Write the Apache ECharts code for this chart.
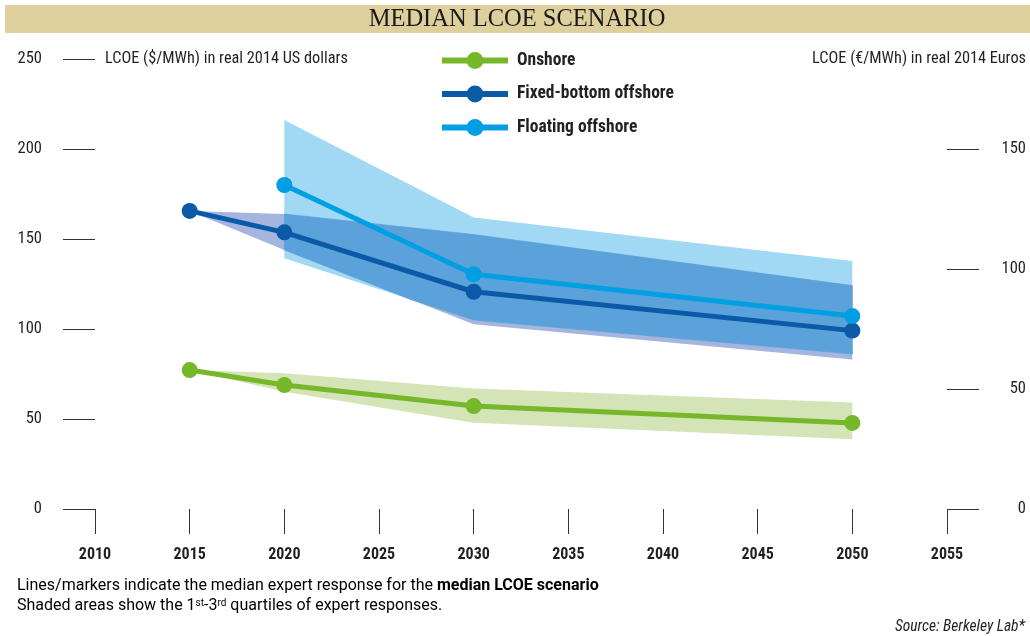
<!DOCTYPE html>
<html><head><meta charset="utf-8">
<script src="https://cdn.jsdelivr.net/npm/echarts@6/dist/echarts.min.js"></script>
<style>html,body{margin:0;padding:0;background:#fff}#c{width:1030px;height:636px}</style>
</head><body><div id="c"></div>
<script>
// ---- data ----
const years = [2015, 2020, 2030, 2050];
const onshoreMedian = [77.2, 68.9, 57.2, 47.8];
const onshoreLow    = [77.2, 65.2, 47.9, 38.7];
const onshoreHigh   = [77.2, 75.4, 67.0, 59.1];
const fixedMedian   = [165.6, 153.7, 120.7, 99.1];
const fixedLow      = [165.6, 143.9, 102.7, 83.1];
const fixedHigh     = [165.6, 163.9, 152.5, 124.1];
const floatYears    = [2020, 2030, 2050];
const floatMedian   = [180.0, 130.4, 107.2];
const floatLow      = [139.3, 105.0, 86.1];
const floatHigh     = [216.1, 162.0, 137.8];
const usdTicks = [0, 50, 100, 150, 200, 250];
const eurTicks = [0, 50, 100, 150];
const usdToEur = 0.75;

const FONT = "'Roboto Condensed', 'Liberation Sans', sans-serif";
const NOTE = "Roboto, 'Liberation Sans', sans-serif";
const TXT = '#231f20';
const C_ON = '#76b82a', C_FIX = '#0a5aa8', C_FLT = '#009fe3';
const B_ON = '#d3e4b6', B_FIX = '#a4b5df', B_FLT = '#a1d9f5', B_OVER = '#5ba1da';

function band(name, xs, lo, hi, fill) {
  return {
    type: 'custom', name: name, silent: true, z: 1,
    data: xs.map((x, i) => [x, lo[i], hi[i]]),
    encode: { x: 0, y: [1, 2] },
    renderItem: function (params, api) {
      if (params.dataIndex !== 0) return;
      const pts = [];
      for (let i = 0; i < xs.length; i++) pts.push(api.coord([xs[i], hi[i]]));
      for (let i = xs.length - 1; i >= 0; i--) pts.push(api.coord([xs[i], lo[i]]));
      return { type: 'polygon', shape: { points: pts }, style: { fill: fill } };
    }
  };
}
// Sutherland-Hodgman clip of a polygon by a convex polygon (pixel space)
function clipPoly(subject, clip) {
  let area = 0;
  for (let i = 0; i < clip.length; i++) {
    const a = clip[i], b = clip[(i + 1) % clip.length];
    area += a[0] * b[1] - b[0] * a[1];
  }
  const sgn = area >= 0 ? 1 : -1;
  let out = subject.slice();
  for (let e = 0; e < clip.length && out.length; e++) {
    const A = clip[e], B = clip[(e + 1) % clip.length];
    const inside = p => sgn * ((B[0] - A[0]) * (p[1] - A[1]) - (B[1] - A[1]) * (p[0] - A[0])) >= 0;
    const cross = (P, Q) => {
      const d1x = Q[0] - P[0], d1y = Q[1] - P[1], d2x = B[0] - A[0], d2y = B[1] - A[1];
      const den = d1x * d2y - d1y * d2x;
      const t = ((A[0] - P[0]) * d2y - (A[1] - P[1]) * d2x) / den;
      return [P[0] + t * d1x, P[1] + t * d1y];
    };
    const inp = out; out = [];
    for (let i = 0; i < inp.length; i++) {
      const cur = inp[i], prev = inp[(i + inp.length - 1) % inp.length];
      if (inside(cur)) { if (!inside(prev)) out.push(cross(prev, cur)); out.push(cur); }
      else if (inside(prev)) out.push(cross(prev, cur));
    }
  }
  return out;
}
function overlapSeries() {
  return {
    type: 'custom', name: 'overlap', silent: true, z: 1,
    data: floatYears.map((x, i) => [x, floatLow[i], floatHigh[i]]),
    encode: { x: 0, y: [1, 2] },
    renderItem: function (params, api) {
      if (params.dataIndex !== 0) return;
      const children = [];
      for (let k = 0; k < floatYears.length - 1; k++) {
        const x0 = floatYears[k], x1 = floatYears[k + 1];
        const j0 = years.indexOf(x0), j1 = years.indexOf(x1);
        const fl = [api.coord([x0, floatHigh[k]]), api.coord([x1, floatHigh[k + 1]]), api.coord([x1, floatLow[k + 1]]), api.coord([x0, floatLow[k]])];
        const fx = [api.coord([x0, fixedHigh[j0]]), api.coord([x1, fixedHigh[j1]]), api.coord([x1, fixedLow[j1]]), api.coord([x0, fixedLow[j0]])];
        const poly = clipPoly(fx, fl);
        if (poly.length > 2) children.push({ type: 'polygon', shape: { points: poly }, style: { fill: B_OVER, stroke: B_OVER, lineWidth: 0.6 } });
      }
      return { type: 'group', children: children };
    }
  };
}
function median(name, xs, ys, color) {
  return {
    type: 'line', name: name, z: 5,
    data: xs.map((x, i) => [x, ys[i]]),
    symbol: 'circle', symbolSize: 16, showSymbol: true,
    lineStyle: { width: 5, color: color }, itemStyle: { color: color },
    emphasis: { disabled: true }
  };
}

const chart = echarts.init(document.getElementById('c'), null, { renderer: 'canvas' });
const option = {
  backgroundColor: '#fff',
  animation: false,
  grid: { left: 95, right: 83, top: 59, bottom: 127, containLabel: false },
  xAxis: {
    type: 'value', min: 2010, max: 2055, interval: 5,
    axisLine: { show: false }, splitLine: { show: false },
    axisTick: { show: true, length: 25, lineStyle: { color: '#333', width: 1 } },
    axisLabel: { margin: 38, fontFamily: FONT, fontSize: 16, fontWeight: 'bold', color: TXT, formatter: v => String(v) }
  },
  yAxis: [{
    type: 'value', min: 0, max: 250, interval: 50, position: 'left',
    axisLine: { show: false }, splitLine: { show: false },
    axisTick: { show: true, length: 32, lineStyle: { color: '#333', width: 1 }, customValues: usdTicks },
    axisLabel: { margin: 53, fontFamily: FONT, fontSize: 16.5, color: TXT, customValues: usdTicks }
  }, {
    type: 'value', min: 0, max: 250 * usdToEur, position: 'right', alignTicks: false,
    axisLine: { show: false }, splitLine: { show: false },
    axisTick: { show: true, length: 32, lineStyle: { color: '#333', width: 1 }, customValues: eurTicks },
    axisLabel: { margin: 79, align: 'right', fontFamily: FONT, fontSize: 16.5, color: TXT, customValues: eurTicks }
  }],
  legend: {
    orient: 'vertical', left: 439, top: 51.5, padding: 0, itemWidth: 66, itemHeight: 21, itemGap: 15.5,
    data: ['Onshore', 'Fixed-bottom offshore', 'Floating offshore'],
    lineStyle: { width: 6 },
    textStyle: { fontFamily: FONT, fontSize: 17.5, fontWeight: 'bold', color: TXT, lineHeight: 18, padding: [0, 0, 0, 4] },
    selectedMode: false
  },
  graphic: [
    { type: 'rect', left: 5, top: 5, shape: { width: 1025, height: 28 }, style: { fill: '#ddd09c' }, silent: true },
    { type: 'text', x: 517, y: 20, style: { text: 'MEDIAN LCOE SCENARIO', font: "24.5px 'Liberation Serif', serif", fill: '#1a1a1a', textAlign: 'center', textVerticalAlign: 'middle' } },
    { type: 'text', x: 105, y: 59, style: { text: 'LCOE ($/MWh) in real 2014 US dollars', font: "16.3px " + FONT, fill: TXT, textVerticalAlign: 'middle' } },
    { type: 'text', x: 1026, y: 59, style: { text: 'LCOE (€/MWh) in real 2014 Euros', font: "16.3px " + FONT, fill: TXT, textAlign: 'right', textVerticalAlign: 'middle' } },
    { type: 'text', x: 17, y: 586, style: {
      rich: { n: { fontFamily: NOTE, fontSize: 16, color: TXT }, b: { fontFamily: NOTE, fontSize: 16, fontWeight: 'bold', color: TXT } },
      text: '{n|Lines/markers indicate the median expert response for the }{b|median LCOE scenario}', textVerticalAlign: 'middle' } },
    { type: 'text', x: 17, y: 606, style: {
      rich: { n: { fontFamily: NOTE, fontSize: 16, color: TXT }, s: { fontFamily: NOTE, fontSize: 10, color: TXT, verticalAlign: 'top' } },
      text: '{n|Shaded areas show the 1}{s|st}{n|-3}{s|rd}{n| quartiles of expert responses.}', textVerticalAlign: 'middle' } },
    { type: 'text', x: 1025, y: 627, style: { text: 'Source: Berkeley Lab*', font: "italic 15.5px " + FONT, fill: TXT, textAlign: 'right', textVerticalAlign: 'middle' } }
  ],
  series: [
    band('onshoreBand', years, onshoreLow, onshoreHigh, B_ON),
    band('floatBand', floatYears, floatLow, floatHigh, B_FLT),
    band('fixedBand', years, fixedLow, fixedHigh, B_FIX),
    overlapSeries(),
    median('Onshore', years, onshoreMedian, C_ON),
    median('Fixed-bottom offshore', years, fixedMedian, C_FIX),
    median('Floating offshore', floatYears, floatMedian, C_FLT)
  ]
};
chart.setOption(option);
</script></body></html>
